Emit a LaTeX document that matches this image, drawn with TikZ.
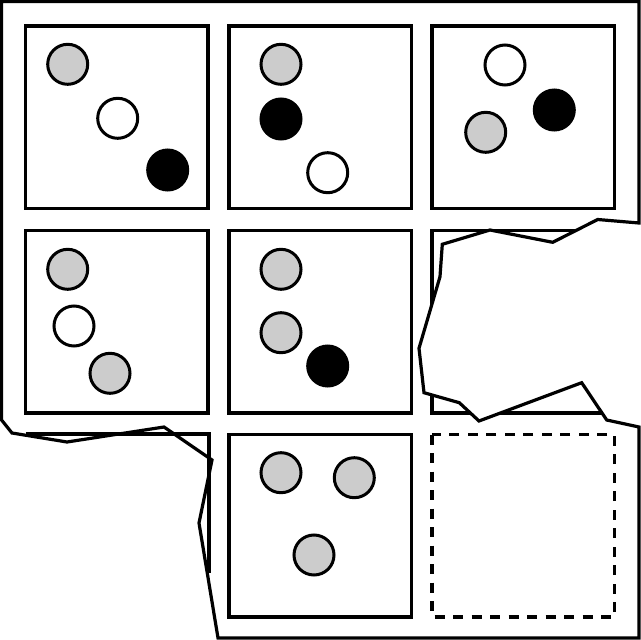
\documentclass[tikz,border=0pt]{standalone}
\begin{document}
\begin{tikzpicture}[x=1pt,y=-1pt,
  cellbox/.style={line width=3.5pt},
  dashbox/.style={line width=3.5pt, dash pattern=on 10pt off 8.5pt},
  ball/.style={line width=3pt, draw=black},
  gball/.style={ball, fill=gray!40},
  wball/.style={ball, fill=white},
  bball/.style={ball, fill=black},
  paper/.style={line width=3.2pt, line join=miter, miter limit=4},
  torn/.style={fill=white, draw=none}]
\useasboundingbox (0,0) rectangle (641,640);
\def\s{182.5}
% full cells
\foreach \x/\y in {25.5/26, 228.8/26, 432/26, 25.5/230.7, 228.8/230.7, 432/230.7, 228.8/434.5}
  \draw[cellbox] (\x,\y) rectangle ++(\s,\s);
% dashed empty cell
\draw[dashbox] (432,434.5) rectangle ++(\s,\s);
% remnant of the torn cell at bottom left
\draw[cellbox] (25.5,434) -- (209,434) -- (209,573);
% balls
\draw[gball] (67.7,64.3) circle (20);
\draw[wball] (117.7,118.3) circle (20);
\draw[bball] (167.7,170) circle (20);
\draw[gball] (281,64.3) circle (20);
\draw[bball] (281,119) circle (20);
\draw[wball] (327.7,172.7) circle (20);
\draw[wball] (505,65) circle (20);
\draw[bball] (554.3,110) circle (20);
\draw[gball] (485.7,132.3) circle (20);
\draw[gball] (67.7,269.3) circle (20);
\draw[wball] (74,326) circle (20);
\draw[gball] (110,373.3) circle (20);
\draw[gball] (281,269.3) circle (20);
\draw[gball] (281,332.7) circle (20);
\draw[bball] (327.7,366) circle (20);
\draw[gball] (281,472.7) circle (20);
\draw[gball] (354.3,477.7) circle (20);
\draw[gball] (314,555) circle (20);
% torn-away piece on the right
\fill[torn] (645,223) -- (597.7,219.5) -- (552.7,242.3) -- (490,230) -- (442.3,244.3)
  -- (440,276.7) -- (419,348.3) -- (424,392.7) -- (459.3,402.7) -- (479,421)
  -- (581.7,382.7) -- (606.7,420) -- (645,427) -- cycle;
% paper outline
\draw[paper] (1.6,1.6) -- (639,1.6) -- (639,223) -- (597.7,219.5) -- (552.7,242.3)
  -- (490,230) -- (442.3,244.3) -- (440,276.7) -- (419,348.3) -- (424,392.7)
  -- (459.3,402.7) -- (479,421) -- (581.7,382.7) -- (606.7,420) -- (639,427)
  -- (639,638) -- (218,638) -- (199,523) -- (212,460) -- (164,427) -- (67,442)
  -- (12,433) -- (1.6,420) -- cycle;
\end{tikzpicture}
\end{document}
